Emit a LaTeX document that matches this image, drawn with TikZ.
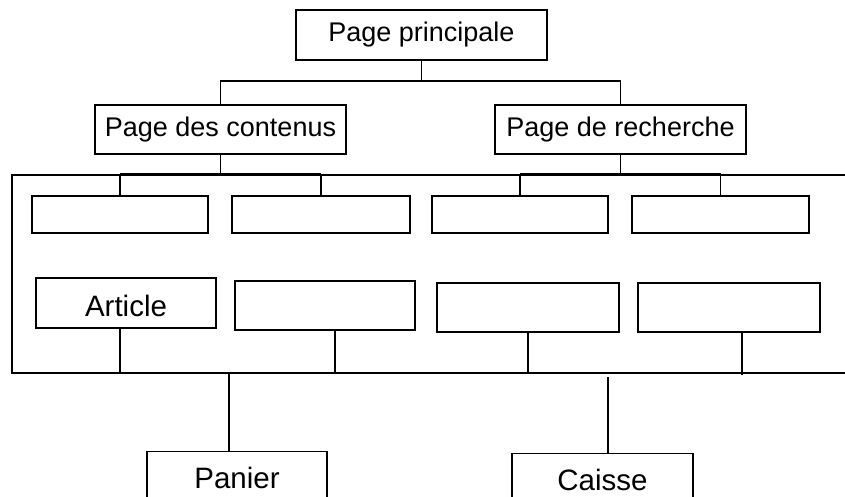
\documentclass[tikz,border=0pt]{standalone}
\usepackage{fontspec}
\setmainfont{Liberation Sans}
\begin{document}
\begin{tikzpicture}[x=1pt,y=-1pt,line width=1.3pt,
  box/.style={draw,rectangle,line width=1.3pt,inner sep=0pt,font=\fontsize{27}{30}\selectfont},
  bigbox/.style={box,font=\fontsize{29.5}{32}\selectfont},
  cutbox/.style={bigbox,anchor=north,minimum width=#1,text height=21.1pt,text depth=60pt,inner ysep=16pt},
  thickseg/.style={line width=2.4pt}]
\useasboundingbox (0,0) rectangle (845,497);
\clip (0,0) rectangle (845,497);
% level 0 and 1
\node[box,minimum width=251pt,minimum height=50pt] (main) at (421.5,35) {Page principale};
\node[box,minimum width=251pt,minimum height=49pt] (contenus) at (220.5,129.5) {Page des contenus};
\node[box,minimum width=251pt,minimum height=49pt] (recherche) at (620.5,129.5) {Page de recherche};
% first row of children
\node[box,minimum width=176pt,minimum height=37pt] (c1) at (120,214.5) {};
\node[box,minimum width=178pt,minimum height=37pt] (c2) at (321,214.5) {};
\node[box,minimum width=176pt,minimum height=37pt] (c3) at (520,214.5) {};
\node[box,minimum width=177pt,minimum height=37pt] (c4) at (720.5,214.5) {};
% second row
\node[bigbox,minimum width=180pt,minimum height=50pt,text height=27pt,text depth=0pt] (article) at (126,303) {Article};
\node[box,minimum width=180pt,minimum height=49pt] (d2) at (325,305.5) {};
\node[box,minimum width=182pt,minimum height=49pt] (d3) at (528,307.5) {};
\node[box,minimum width=182pt,minimum height=49pt] (d4) at (729,307.5) {};
% bottom
\node[cutbox=180pt] (panier) at (237,451) {Panier};
\node[cutbox=181pt] (caisse) at (602.5,453) {Caisse};
% coordinates
\coordinate (mj) at (421.5,81);
\coordinate (cj) at (220.5,174);
\coordinate (rj) at (620.5,174);
\coordinate (ftl) at (12,175);
\coordinate (ftr) at (845,175);
\coordinate (fbl) at (12,373);
\coordinate (fbr) at (845,373);
\coordinate (a1) at (120,373);
\coordinate (a2) at (335,373);
\coordinate (a3) at (528,373);
\coordinate (a4) at (742,375);
\coordinate (pj) at (229,373);
\coordinate (kj) at (608,377);
% connectors level 0 -> 1
\draw (main.south) -- (mj);
\draw (contenus.north) |- (mj) -| (recherche.north);
% frame
\draw (ftr) -- (ftl) -- (fbl) -- (fbr);
% level 1 -> first row
\draw (contenus.south) -- (cj);
\draw (recherche.south) -- (rj);
\draw[thickseg] (c1.north |- cj) -- (c2.north |- cj);
\draw[thickseg] (c3.north |- rj) -- (c4.north |- rj);
\draw (c1.north |- cj) -- (c1.north);
\draw (c2.north |- cj) -- (c2.north);
\draw (c3.north |- rj) -- (c3.north);
\draw (c4.north |- rj) -- (c4.north);
% second row -> bottom line
\draw (a1 |- article.south) -- (a1);
\draw (a2 |- d2.south) -- (a2);
\draw (a3 |- d3.south) -- (a3);
\draw (a4 |- d4.south) -- (a4);
% drops to Panier and Caisse
\draw (pj) -- (pj |- panier.north);
\draw (kj) -- (kj |- caisse.north);
\end{tikzpicture}
\end{document}
